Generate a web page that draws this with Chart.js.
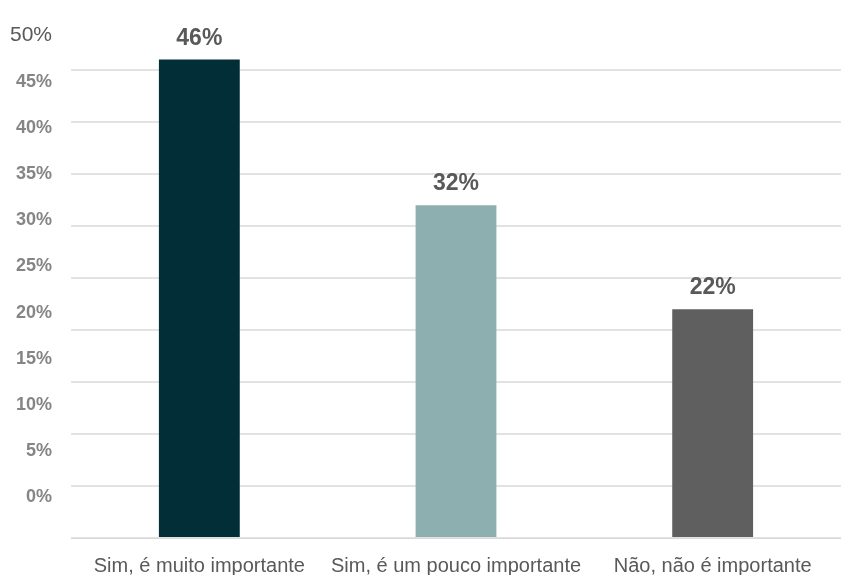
<!DOCTYPE html>
<html>
<head>
<meta charset="utf-8">
<script src="https://cdn.jsdelivr.net/npm/chart.js@4"></script>
<style>
  body { margin: 0; background: #fff; }
  #wrap { width: 841px; height: 575px; }
</style>
</head>
<body>
<div id="wrap"><canvas id="answers"></canvas></div>
<script>
const categories = ['Sim, é muito importante', 'Sim, é um pouco importante', 'Não, não é importante'];
const percentages = [46, 32, 22];
const barColors = ['#022e37', '#8eafb0', '#5f5f5f'];
const yTicks = [0, 5, 10, 15, 20, 25, 30, 35, 40, 45, 50];

const isTop = c => !!(c && c.tick && c.tick.value === 50);

// draws the "46%" style labels above each bar
const valueLabels = {
    id: 'valueLabels',
    afterDatasetsDraw(chart) {
        const ctx = chart.ctx;
        const meta = chart.getDatasetMeta(0);
        ctx.save();
        ctx.font = 'bold 23px "Liberation Sans", Arial, sans-serif';
        ctx.fillStyle = '#595959';
        ctx.textAlign = 'center';
        ctx.textBaseline = 'alphabetic';
        meta.data.forEach((bar, i) => {
            ctx.fillText(percentages[i] + '%', bar.x, bar.y - 15);
        });
        ctx.restore();
    }
};

const ctx = document.getElementById('answers').getContext('2d');
const myChart = new Chart(ctx, {
    type: 'bar',
    data: {
        labels: categories,
        datasets: [{
            data: percentages,
            backgroundColor: barColors,
            categoryPercentage: 1,
            barPercentage: 0.315
        }]
    },
    plugins: [valueLabels],
    options: {
        responsive: true,
        maintainAspectRatio: false,
        animation: false,
        layout: { padding: { top: 18, left: 0, right: 0, bottom: 0 } },
        plugins: {
            legend: { display: false },
            tooltip: { enabled: false }
        },
        scales: {
            x: {
                grid: { display: false },
                border: { display: true, color: '#d9d9d9', width: 1 },
                ticks: {
                    color: '#595959',
                    padding: 8,
                    maxRotation: 0,
                    autoSkip: false,
                    font: { family: '"Liberation Sans", Arial, sans-serif', size: 20 }
                },
                afterFit: s => { s.height = 37; }
            },
            y: {
                position: 'left',
                min: 0,
                max: 50,
                afterBuildTicks: a => { a.ticks = yTicks.map(v => ({ value: v })); },
                ticks: { display: false },
                border: { display: false },
                grid: {
                    drawTicks: false,
                    lineWidth: 2,
                    color: c => isTop(c) ? 'rgba(0,0,0,0)' : '#e2e2e2'
                },
                afterFit: s => { s.width = 0; }
            },
            // label-only axis, the labels in the picture sit a bit off the gridlines
            y2: {
                position: 'left',
                min: -4.4,
                max: 51.9,
                afterBuildTicks: a => { a.ticks = yTicks.map(v => ({ value: v })); },
                grid: { display: false, drawTicks: false },
                border: { display: false },
                ticks: {
                    padding: 19,
                    color: c => isTop(c) ? '#595959' : '#858585',
                    font: c => isTop(c)
                        ? { family: '"Liberation Sans", Arial, sans-serif', size: 21, weight: 'normal' }
                        : { family: '"Liberation Sans", Arial, sans-serif', size: 18, weight: 'bold' },
                    callback: v => v + '%'
                },
                afterFit: s => {
                    s.width = 71;
                    s.paddingTop = 0;
                    s.paddingBottom = 0;
                }
            }
        }
    }
});
</script>
</body>
</html>
